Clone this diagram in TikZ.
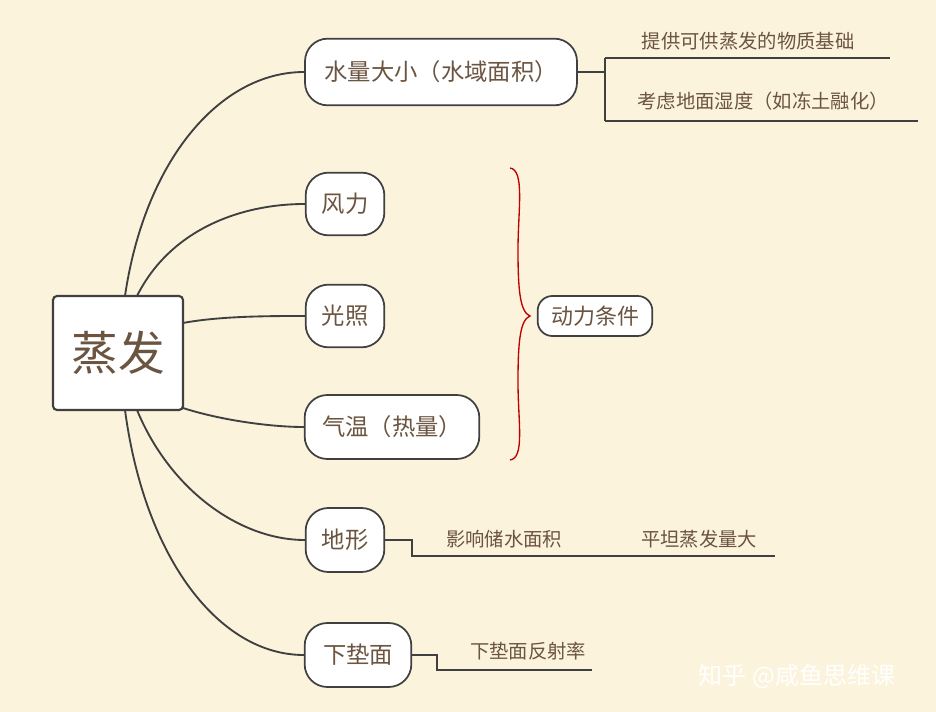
\documentclass[tikz,border=0pt]{standalone}
\usepackage{fontspec}
\setmainfont{Noto Sans CJK SC}
\usetikzlibrary{decorations.pathreplacing}
\definecolor{bg}{HTML}{FBF3DC}
\definecolor{txt}{HTML}{6B5440}
\definecolor{edge}{HTML}{404040}
\begin{document}
\begin{tikzpicture}[x=0.75pt,y=-0.75pt,
  pill/.style={draw=edge,line width=1.3pt,fill=white,rounded corners=17pt,text=txt,font=\fontsize{17.5}{19}\selectfont,inner sep=0pt,anchor=center},
  leaf/.style={text=txt,font=\fontsize{14.5}{16}\selectfont,anchor=center},
  conn/.style={draw=edge,line width=1.4pt},
  thin/.style={draw=edge,line width=0.8pt}]
\fill[bg] (0,0) rectangle (936,712);
\useasboundingbox (0,0) rectangle (936,712);
\node[draw=edge,line width=1.6pt,fill=white,rounded corners=3pt,minimum width=97.5pt,minimum height=85.5pt,text=txt,font=\fontsize{35}{38}\selectfont] (c) at (118,353) {蒸发};
\node[pill,minimum width=204pt,minimum height=50pt] (a) at (441,72) {水量大小（水域面积）};
\node[pill,minimum width=59pt,minimum height=47pt] (b) at (345,204) {风力};
\node[pill,minimum width=59pt,minimum height=47pt] (g) at (345,316) {光照};
\node[pill,minimum width=131pt,minimum height=48pt] (t) at (392,427) {气温（热量）};
\node[pill,minimum width=59pt,minimum height=48pt] (d) at (345,540) {地形};
\node[pill,minimum width=80pt,minimum height=48pt] (x) at (358,655) {下垫面};
\node[pill,minimum width=86pt,minimum height=30pt,rounded corners=11pt,font=\fontsize{16.5}{18}\selectfont] (p) at (595,316) {动力条件};
\coordinate (ct) at (125,296);
\coordinate (ct2) at (137,296);
\coordinate (cb) at (125,410);
\coordinate (cb2) at (137,410);
\draw[conn] (ct) .. controls (145,160) and (220,72) .. (a.west);
\draw[conn] (ct2) .. controls (170,230) and (240,204) .. (b.west);
\draw[conn] (183,323) .. controls (220,316) and (270,316) .. (g.west);
\draw[conn] (183,408) .. controls (220,420) and (270,427) .. (t.west);
\draw[conn] (cb2) .. controls (170,490) and (240,540) .. (d.west);
\draw[conn] (cb) .. controls (145,560) and (220,655) .. (x.west);
\draw[red!75!black,line width=1pt] (510,168) .. controls (525,170) and (518,210) .. (518,250) .. controls (518,290) and (520,312) .. (530,316) .. controls (520,320) and (518,342) .. (518,382) .. controls (518,422) and (525,458) .. (510,460);
\node[leaf] (l1) at (748,41) {提供可供蒸发的物质基础};
\node[leaf] (l2) at (763,101) {考虑地面湿度（如冻土融化）};
\coordinate (j1) at (605,72);
\draw[thin] (a.east) -- (j1);
\draw[thin] (605,58) -- (605,121);
\draw[thin] (605,58) -- (890,58);
\draw[thin] (605,121) -- (918,121);
\node[leaf] (l3) at (504,539) {影响储水面积};
\node[leaf] (l4) at (699,539) {平坦蒸发量大};
\draw[thin] (d.east) -- (412,540) -- (412,556) -- (775,556);
\node[leaf] (l5) at (528,651) {下垫面反射率};
\draw[thin] (x.east) -- (437,655) -- (437,670) -- (592,670);
\node[text=white,font=\fontsize{18}{20}\selectfont] (w) at (797,676) {知乎 @咸鱼思维课};
\end{tikzpicture}
\end{document}
